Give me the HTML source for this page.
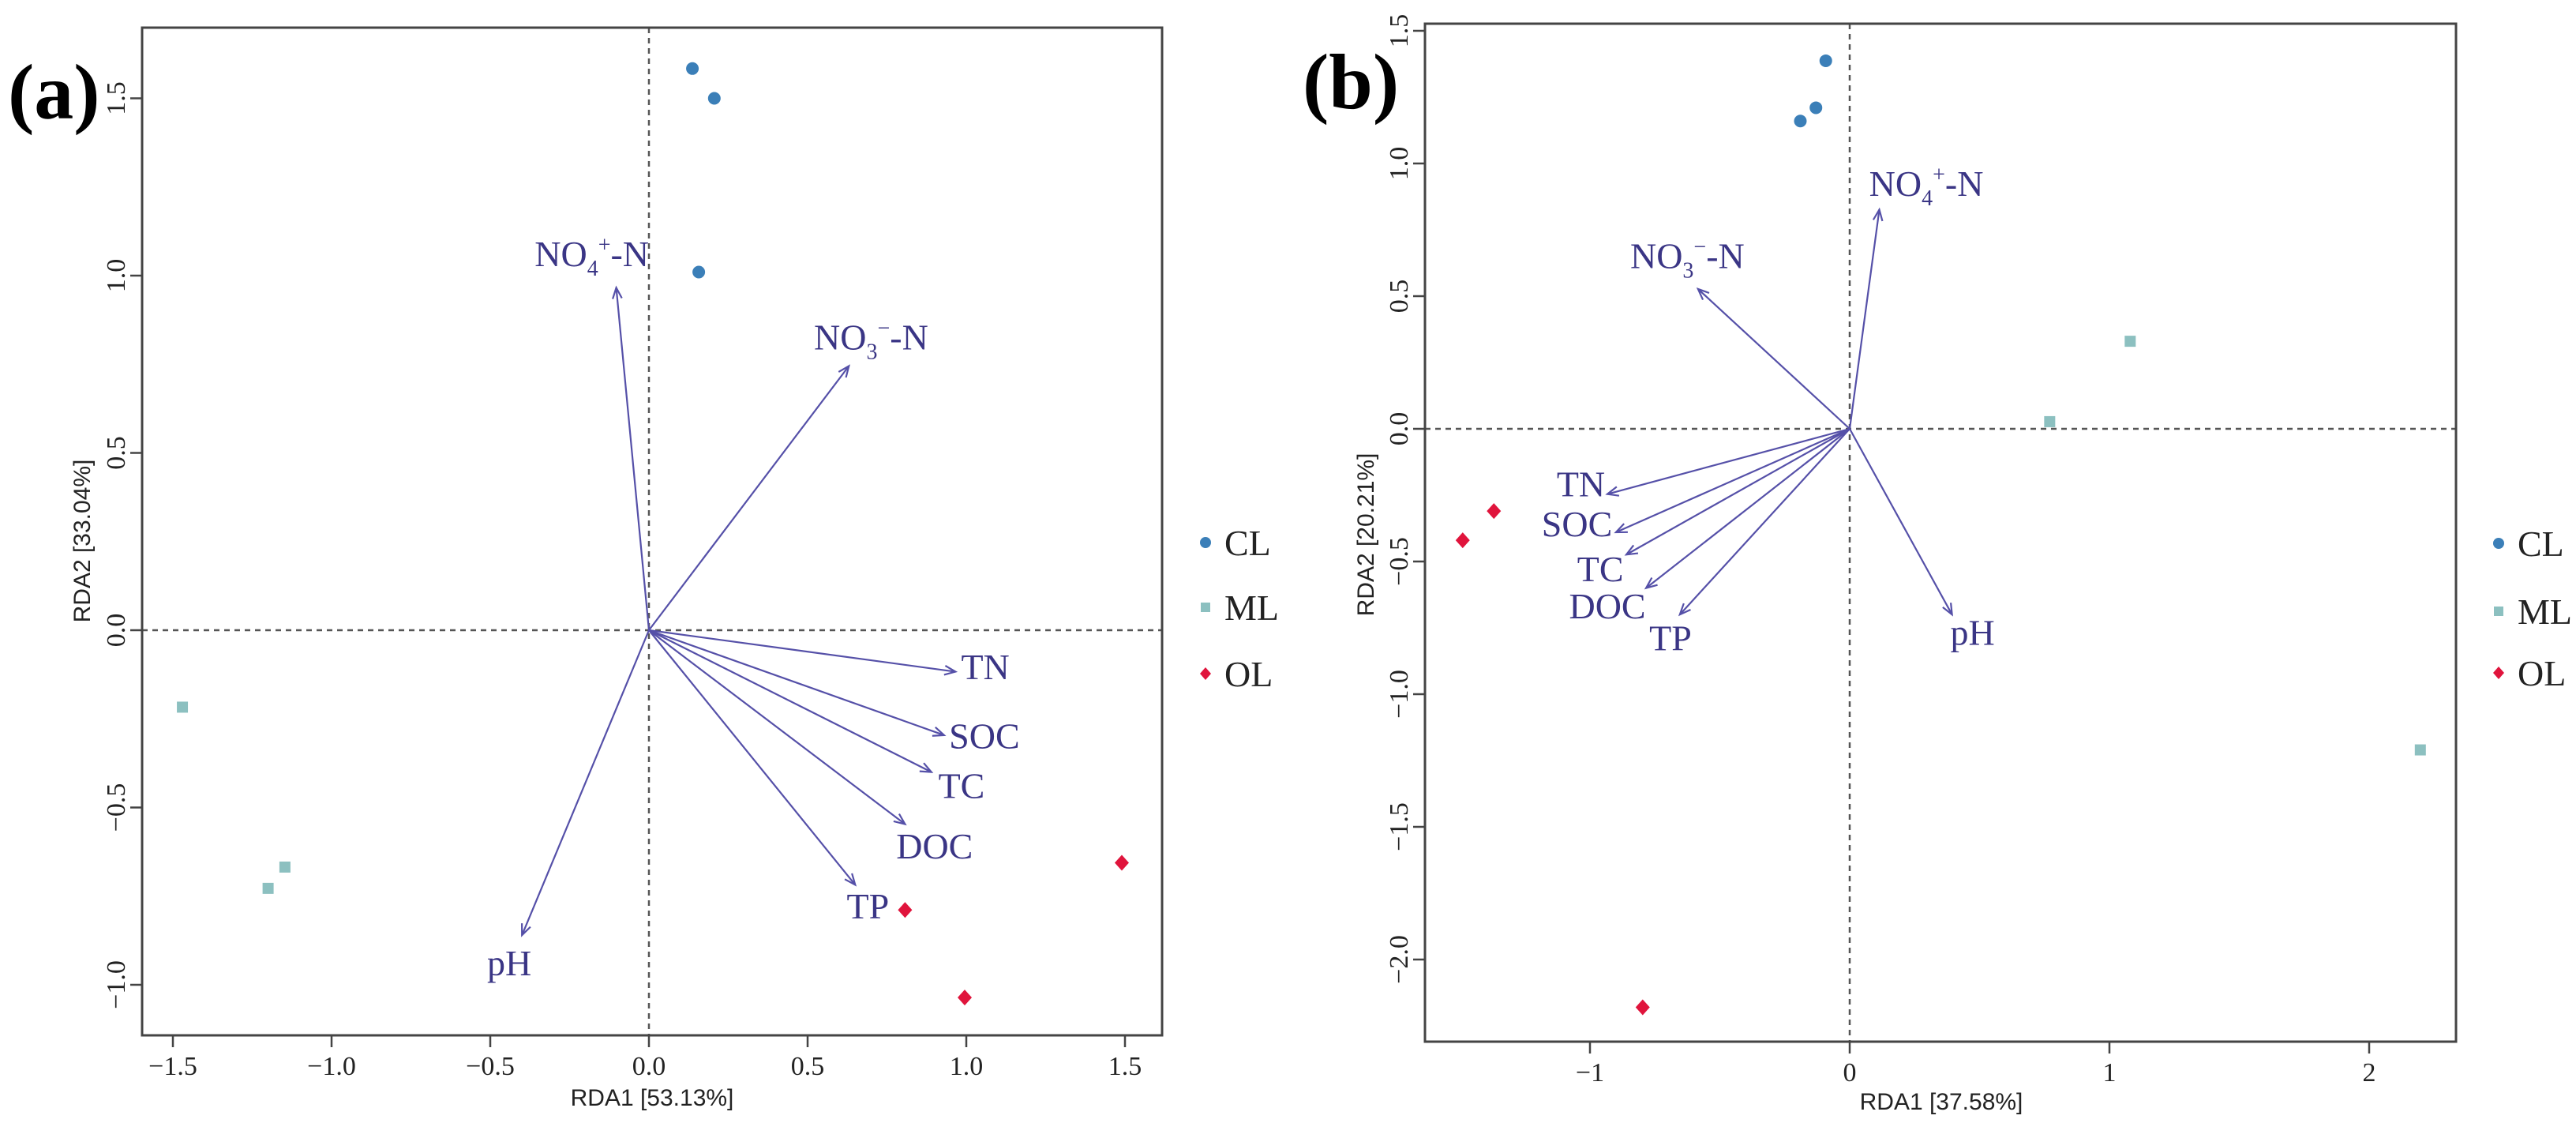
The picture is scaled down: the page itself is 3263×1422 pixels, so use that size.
<!DOCTYPE html>
<html><head><meta charset="utf-8">
<style>
html,body{margin:0;padding:0;background:#fff;}
svg{display:block;}
.tk{font-family:"Liberation Serif",serif;font-size:34px;fill:#222;}
.ttl{font-family:"Liberation Sans",sans-serif;font-size:30px;fill:#222;}
.lab{font-family:"Liberation Serif",serif;font-size:46px;fill:#3a3585;}
.leg{font-family:"Liberation Serif",serif;font-size:46px;fill:#222;}
.pan{font-family:"Liberation Serif",serif;font-size:100px;font-weight:bold;fill:#000;}
</style></head>
<body>
<svg id="fig" width="3263" height="1422" viewBox="0 0 3263 1422" xmlns="http://www.w3.org/2000/svg"></svg>
<script>
// ---- Panel (a) data ----
const aXTicks=[-1.5,-1.0,-0.5,0.0,0.5,1.0,1.5];
const aXTickLabels=["\u22121.5","\u22121.0","\u22120.5","0.0","0.5","1.0","1.5"];
const aYTicks=[-1.0,-0.5,0.0,0.5,1.0,1.5];
const aYTickLabels=["\u22121.0","\u22120.5","0.0","0.5","1.0","1.5"];
const aVars=["NO4","NO3","TN","SOC","TC","DOC","TP","pH"];
const aArrowX=[-0.103,0.63,0.966,0.93,0.89,0.807,0.65,-0.40];
const aArrowY=[0.966,0.745,-0.117,-0.296,-0.40,-0.547,-0.718,-0.86];
const aLabelX=[-0.18,0.70,1.06,1.057,0.985,0.90,0.69,-0.44];
const aLabelY=[1.06,0.825,-0.105,-0.30,-0.44,-0.61,-0.78,-0.94];
const aCLx=[0.137,0.206,0.157], aCLy=[1.584,1.5,1.01];
const aMLx=[-1.47,-1.20,-1.147], aMLy=[-0.217,-0.728,-0.668];
const aOLx=[0.807,0.995,1.49], aOLy=[-0.789,-1.036,-0.656];
// ---- Panel (b) data ----
const bXTicks=[-1,0,1,2];
const bXTickLabels=["\u22121","0","1","2"];
const bYTicks=[-2.0,-1.5,-1.0,-0.5,0.0,0.5,1.0,1.5];
const bYTickLabels=["\u22122.0","\u22121.5","\u22121.0","\u22120.5","0.0","0.5","1.0","1.5"];
const bVars=["NO4","NO3","TN","SOC","TC","DOC","TP","pH"];
const bArrowX=[0.114,-0.584,-0.933,-0.90,-0.86,-0.784,-0.654,0.394];
const bArrowY=[0.826,0.527,-0.246,-0.39,-0.474,-0.60,-0.70,-0.70];
const bLabelX=[0.295,-0.625,-1.035,-1.05,-0.96,-0.933,-0.69,0.473];
const bLabelY=[0.922,0.65,-0.21,-0.36,-0.53,-0.67,-0.79,-0.77];
const bCLx=[-0.092,-0.13,-0.19], bCLy=[1.387,1.21,1.16];
const bMLx=[0.77,1.08,2.197], bMLy=[0.027,0.33,-1.21];
const bOLx=[-1.49,-1.37,-0.797], bOLy=[-0.42,-0.31,-2.18];

const NS="http://www.w3.org/2000/svg";
const svg=document.getElementById('fig');
function el(tag,attrs,parent){const e=document.createElementNS(NS,tag);for(const k in attrs)e.setAttribute(k,attrs[k]);(parent||svg).appendChild(e);return e;}

function panel(cfg){
  const g=el('g',{});
  
  
  const X=v=>cfg.x0+v*cfg.sx, Y=v=>cfg.y0-v*cfg.sy;
  const hz=el('line',{x1:cfg.L,x2:cfg.R,y1:Y(0),y2:Y(0),stroke:'#555','stroke-width':2.5,'stroke-dasharray':'7 6'},g);
  
  
  const vz=el('line',{x1:X(0),x2:X(0),y1:cfg.T,y2:cfg.B,stroke:'#555','stroke-width':2.5,'stroke-dasharray':'7 6'},g);
  
  
  const box=el('rect',{x:cfg.L,y:cfg.T,width:cfg.R-cfg.L,height:cfg.B-cfg.T,fill:'none',stroke:'#444','stroke-width':3},g);
  
  
  cfg.xt.forEach((v,i)=>{
    el('line',{x1:X(v),x2:X(v),y1:cfg.B,y2:cfg.B+15,stroke:'#444','stroke-width':2.5},g);
    const t=el('text',{x:X(v),y:cfg.B+50,'text-anchor':'middle',class:'tk'},g);
    t.textContent=cfg.xtl[i];
    
    
  });
  cfg.yt.forEach((v,i)=>{
    el('line',{x1:cfg.L-15,x2:cfg.L,y1:Y(v),y2:Y(v),stroke:'#444','stroke-width':2.5},g);
    const t=el('text',{x:cfg.ytx,y:Y(v),'text-anchor':'middle',class:'tk',transform:`rotate(-90 ${cfg.ytx} ${Y(v)})`},g);
    t.textContent=cfg.ytl[i];
    
    
  });
  const xt=el('text',{x:cfg.xtitleX,y:cfg.xtitleY,'text-anchor':'middle',class:'ttl'},g);
  xt.textContent=cfg.xtitle;
  
  
  const yt=el('text',{x:cfg.ytitleX,y:cfg.ytitleY,'text-anchor':'middle',class:'ttl',transform:`rotate(-90 ${cfg.ytitleX} ${cfg.ytitleY})`},g);
  yt.textContent=cfg.ytitle;
  
  
  cfg.vars.forEach((nm,i)=>{
    const x1=X(0),y1=Y(0),x2=X(cfg.ax[i]),y2=Y(cfg.ay[i]);
    const ang=Math.atan2(y2-y1,x2-x1),h=15,w=0.4;
    const ag=el('g',{},g);
    
    
    el('line',{x1,y1,x2,y2,stroke:'#5550a8','stroke-width':2.2},ag);
    el('polyline',{points:`${x2-h*Math.cos(ang-w)},${y2-h*Math.sin(ang-w)} ${x2},${y2} ${x2-h*Math.cos(ang+w)},${y2-h*Math.sin(ang+w)}`,fill:'none',stroke:'#5550a8','stroke-width':2.2},ag);
    const t=el('text',{x:X(cfg.lx[i]),y:Y(cfg.ly[i])+15,'text-anchor':'middle',class:'lab'},g);
    
    
    if(nm==='NO4'){t.innerHTML='NO<tspan font-size="28" dy="12">4</tspan><tspan font-size="28" dy="-30">+</tspan><tspan dy="18">-N</tspan>';}
    else if(nm==='NO3'){t.innerHTML='NO<tspan font-size="28" dy="12">3</tspan><tspan font-size="28" dy="-30">\u2212</tspan><tspan dy="18">-N</tspan>';}
    else t.textContent=nm;
  });
  cfg.clx.forEach((v,i)=>{const c=el('circle',{cx:X(v),cy:Y(cfg.cly[i]),r:8,fill:'#3b7fb8'},g);
    });
  cfg.mlx.forEach((v,i)=>{const c=el('rect',{x:X(v)-7,y:Y(cfg.mly[i])-7,width:14,height:14,fill:'#8cc0c0'},g);
    });
  cfg.olx.forEach((v,i)=>{const px=X(v),py=Y(cfg.oly[i]);const c=el('polygon',{points:`${px},${py-10} ${px+9},${py} ${px},${py+10} ${px-9},${py}`,fill:'#e0143c'},g);
    });
  const lg=el('g',{},g);
  
  
  const names=['CL','ML','OL'];
  names.forEach((n,i)=>{
    const y=cfg.legY[i],x=cfg.legX;
    if(i===0)el('circle',{cx:x,cy:y,r:7,fill:'#3b7fb8'},lg);
    if(i===1)el('rect',{x:x-6,y:y-6,width:12,height:12,fill:'#8cc0c0'},lg);
    if(i===2)el('polygon',{points:`${x},${y-8} ${x+7},${y} ${x},${y+8} ${x-7},${y}`,fill:'#e0143c'},lg);
    const t=el('text',{x:x+24,y:y+16,class:'leg'},lg);
    t.textContent=n;
    
    
  });
  const p=el('text',{x:cfg.panX,y:cfg.panY,class:'pan'},g);
  p.textContent=cfg.panel;
  
  
}

panel({name:'panel-a',L:180,R:1472,T:35,B:1311,x0:822,sx:402,y0:798,sy:449,
  xt:aXTicks,xtl:aXTickLabels,yt:aYTicks,ytl:aYTickLabels,ytx:158,
  xtitle:'RDA1  [53.13%]',xtitleX:826,xtitleY:1400,ytitle:'RDA2  [33.04%]',ytitleX:114,ytitleY:685,
  vars:aVars,ax:aArrowX,ay:aArrowY,lx:aLabelX,ly:aLabelY,
  clx:aCLx,cly:aCLy,mlx:aMLx,mly:aMLy,olx:aOLx,oly:aOLy,
  legX:1527,legY:[687,769,853],panel:'(a)',panX:10,panY:150});
panel({name:'panel-b',L:1805,R:3111,T:30,B:1319,x0:2343,sx:329,y0:543,sy:336,
  xt:bXTicks,xtl:bXTickLabels,yt:bYTicks,ytl:bYTickLabels,ytx:1783,
  xtitle:'RDA1  [37.58%]',xtitleX:2459,xtitleY:1405,ytitle:'RDA2  [20.21%]',ytitleX:1740,ytitleY:677,
  vars:bVars,ax:bArrowX,ay:bArrowY,lx:bLabelX,ly:bLabelY,
  clx:bCLx,cly:bCLy,mlx:bMLx,mly:bMLy,olx:bOLx,oly:bOLy,
  legX:3165,legY:[688,774,852],panel:'(b)',panX:1650,panY:137});
</script>
</body></html>
